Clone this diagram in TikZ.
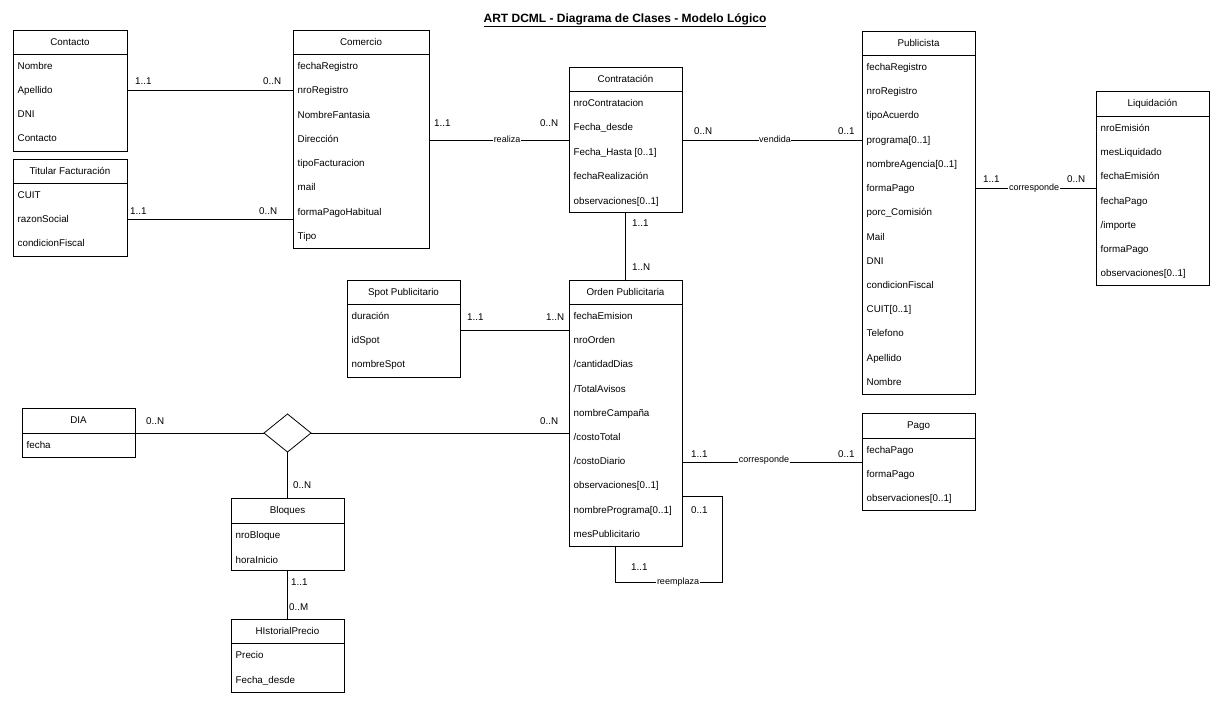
\documentclass[tikz,border=0pt]{standalone}
\usepackage{fontspec}
\setmainfont{Liberation Sans}
\usetikzlibrary{shapes.geometric}
\tikzset{
  boxline/.style={draw=black, line width=0.8pt},
  classbody/.style={boxline, fill=white, inner sep=0pt, outer sep=0pt, rectangle},
  txt/.style={inner sep=0pt, text height=6.9pt, text depth=0pt, font=\fontsize{9.8}{11}\selectfont},
  ctitle/.style={txt},
  attr/.style={txt, anchor=west},
  mult/.style={txt, anchor=west},
  conn/.style={draw=black, line width=0.8pt},
  clabel/.style={fill=white, inner sep=0.6pt, text height=6.5pt, text depth=1.8pt, font=\fontsize{9}{10}\selectfont},
  relshape/.style={diamond, boxline, fill=white, inner sep=0pt, outer sep=0pt, minimum width=47pt, minimum height=38pt},
}
% #1 name, #2 x1, #3 y1, #4 x2, #5 y2, #6 header line y, #7 title, #8 row step, #9 attributes
\newcommand\classbox[9]{%
  \node[classbody, minimum width={(#4-#2)*1pt}, minimum height={(#5-#3)*1pt}] (#1) at ({(#2+#4)/2},{(#3+#5)/2}) {};
  \draw[boxline] (#2,#6) -- (#4,#6);
  \node[ctitle] (#1-t) at ({(#2+#4)/2},{(#3+#6)/2}) {#7};
  \foreach \a [count=\i] in {#9} {\node[attr] (#1-\i) at ({#2+4.5},{#6+12+(\i-1)*#8}) {\a};}
}
\begin{document}
\begin{tikzpicture}[x=1pt,y=-1pt]
\path[use as bounding box, fill=white] (0,0) rectangle (1225,701);

% Title
\node[inner sep=0pt, font=\bfseries\fontsize{12}{14}\selectfont] (title) at (625,20) {\underline{ART DCML - Diagrama de Clases - Modelo Lógico}};

% Classes
\classbox{contacto}{13}{30}{127}{151}{54}{Contacto}{24}{Nombre,Apellido,DNI,Contacto}
\classbox{titular}{13}{159}{127}{256}{183}{Titular Facturación}{24}{CUIT,razonSocial,condicionFiscal}
\classbox{comercio}{293}{30}{429}{248}{54}{Comercio}{24.3}{fechaRegistro,nroRegistro,NombreFantasia,Dirección,tipoFacturacion,mail,formaPagoHabitual,Tipo}
\classbox{contratacion}{569}{67}{682}{212}{91}{Contratación}{24.4}{nroContratacion,Fecha\_desde,Fecha\_Hasta [0..1],fechaRealización,observaciones[0..1]}
\classbox{publicista}{862}{31}{975}{394}{55}{Publicista}{24.23}{fechaRegistro,nroRegistro,tipoAcuerdo,programa[0..1],nombreAgencia[0..1],formaPago,porc\_Comisión,Mail,DNI,condicionFiscal,CUIT[0..1],Telefono,Apellido,Nombre}
\classbox{liquidacion}{1096}{91}{1209}{285}{116}{Liquidación}{24.2}{nroEmisión,mesLiquidado,fechaEmisión,fechaPago,/importe,formaPago,observaciones[0..1]}
\classbox{spot}{347}{280}{460}{377}{304}{Spot Publicitario}{24}{duración,idSpot,nombreSpot}
\classbox{orden}{569}{280}{682}{546}{304}{Orden Publicitaria}{24.2}{fechaEmision,nroOrden,/cantidadDias,/TotalAvisos,nombreCampaña,/costoTotal,/costoDiario,observaciones[0..1],nombrePrograma[0..1],mesPublicitario}
\classbox{dia}{22}{408}{135}{457}{433}{DIA}{24}{fecha}
\classbox{bloques}{231}{498}{344}{570}{523}{Bloques}{25}{nroBloque,horaInicio}
\classbox{historial}{231}{619}{344}{692}{643}{HIstorialPrecio}{25}{Precio,Fecha\_desde}
\classbox{pago}{862}{413}{975}{510}{438}{Pago}{24}{fechaPago,formaPago,observaciones[0..1]}

\node[relshape] (rel) at (287.5,433) {};

% Connectors
\draw[conn] (contacto.east |- 0,90) -- (comercio.west |- 0,90);
\node[mult] (m1a) at (135,81) {1..1};
\node[mult] (m1b) at (263,81) {0..N};

\draw[conn] (titular.east |- 0,219) -- (comercio.west |- 0,219);
\node[mult] (m2a) at (130,211) {1..1};
\node[mult] (m2b) at (259,211) {0..N};

\draw[conn] (comercio.east |- 0,140) -- (contratacion.west |- 0,140);
\node[clabel] (l3) at (507,140) {realiza};
\node[mult] (m3a) at (434,123) {1..1};
\node[mult] (m3b) at (540,123) {0..N};

\draw[conn] (contratacion.east |- 0,140) -- (publicista.west |- 0,140);
\node[clabel] (l4) at (775,140) {vendida};
\node[mult] (m4a) at (694,131) {0..N};
\node[mult] (m4b) at (838,131) {0..1};

\draw[conn] (publicista.east |- 0,188) -- (liquidacion.west |- 0,188);
\node[clabel] (l5) at (1034,188) {corresponde};
\node[mult] (m5a) at (983,179) {1..1};
\node[mult] (m5b) at (1067,179) {0..N};

\draw[conn] (contratacion.south) -- (orden.north);
\node[mult] (m6a) at (632,223) {1..1};
\node[mult] (m6b) at (632,267) {1..N};

\draw[conn] (spot.east |- 0,330) -- (orden.west |- 0,330);
\node[mult] (m7a) at (467,317) {1..1};
\node[mult] (m7b) at (546,317) {1..N};

\draw[conn] (dia.east |- rel) -- (rel.west);
\draw[conn] (rel.east) -- (orden.west |- rel);
\node[mult] (m8a) at (146,421) {0..N};
\node[mult] (m8b) at (540,421) {0..N};

\draw[conn] (rel.south) -- (bloques.north);
\node[mult] (m9) at (293,485) {0..N};

\draw[conn] (bloques.south) -- (historial.north);
\node[mult] (m10a) at (291,582) {1..1};
\node[mult] (m10b) at (289,607) {0..M};

\draw[conn] (orden.east |- 0,462) -- (pago.west |- 0,462);
\node[clabel] (l11) at (764,460) {corresponde};
\node[mult] (m11a) at (691,454) {1..1};
\node[mult] (m11b) at (838,454) {0..1};

\coordinate (loopR) at (722,582);
\draw[conn] (orden.east |- 0,496) -| (loopR) -| (orden.south -| 615,0);
\node[clabel] (l12) at (678,582) {reemplaza};
\node[mult] (m12a) at (691,510) {0..1};
\node[mult] (m12b) at (631,567) {1..1};
\end{tikzpicture}
\end{document}
